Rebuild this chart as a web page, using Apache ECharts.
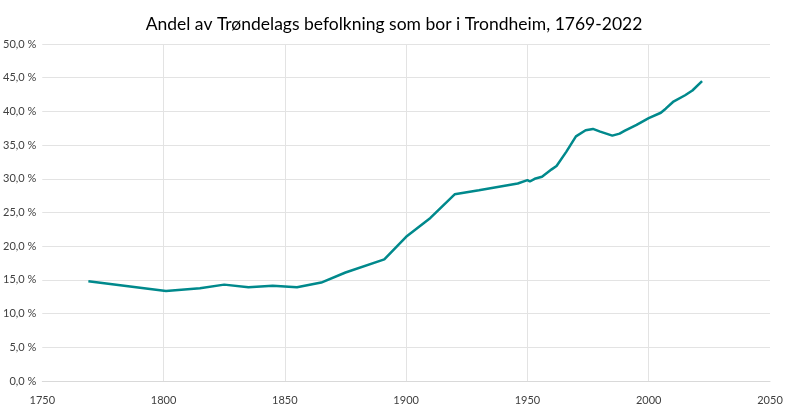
<!DOCTYPE html>
<html>
<head>
<meta charset="utf-8">
<script src="https://cdn.jsdelivr.net/npm/echarts@6/dist/echarts.min.js"></script>
<style>
html, body { margin: 0; padding: 0; background: #fff; }
#chart { width: 800px; height: 413px; }
</style>
</head>
<body>
<div id="chart"></div>
<script>
// år og andel (%)
var years = [1769, 1801, 1815, 1825, 1835, 1845, 1855, 1865, 1875, 1891, 1900, 1910, 1920, 1930, 1946,
	1950, 1951, 1953, 1956, 1960, 1962, 1966, 1970, 1974, 1977, 1980, 1985, 1988, 1990, 1995,
	2000, 2005, 2007, 2010, 2015, 2018, 2022];
var andel = [14.8, 13.35, 13.75, 14.3, 13.9, 14.15, 13.9, 14.6, 16.1, 18.05, 21.4, 24.2, 27.7, 28.3, 29.3,
	29.8, 29.6, 30.0, 30.3, 31.4, 31.9, 34.0, 36.3, 37.2, 37.4, 37.0, 36.4, 36.7, 37.1, 38.0,
	39.0, 39.8, 40.4, 41.4, 42.4, 43.1, 44.5];

var chart = echarts.init(document.getElementById('chart'));
var seriesData = [];
for (var i = 0; i < years.length; i++) {
	seriesData.push([years[i], andel[i]]);
}

var option = {
	animation: false,
	backgroundColor: '#fff',
	title: {
		text: 'Andel av Trøndelags befolkning som bor i Trondheim, 1769-2022',
		left: 389,
		textAlign: 'center',
		top: 10,
		textStyle: {
			fontFamily: 'Lato',
			fontWeight: 'normal',
			fontSize: 17.5,
			color: '#000'
		}
	},
	grid: {
		left: 41,
		right: 30,
		top: 44,
		bottom: 32
	},
	xAxis: {
		type: 'value',
		min: 1750,
		max: 2050,
		interval: 50,
		axisLine: { show: true, lineStyle: { color: '#d9d9d9' } },
		axisTick: { show: false },
		axisLabel: {
			color: '#404040',
			fontFamily: 'Lato',
			fontSize: 11,
			margin: 14,
			formatter: function (v) {
				return String(v);
			}
		},
		splitLine: {
			show: true,
			showMinLine: false,
			showMaxLine: false,
			lineStyle: { color: '#e3e3e3', width: 1 }
		}
	},
	yAxis: {
		type: 'value',
		min: 0,
		max: 50,
		interval: 5,
		axisLine: { show: false },
		axisTick: { show: false },
		axisLabel: {
			color: '#404040',
			fontFamily: 'Lato',
			fontSize: 11,
			margin: 6,
			formatter: function (v) {
				return v.toFixed(1).replace('.', ',') + ' %';
			}
		},
		splitLine: {
			lineStyle: { color: '#e3e3e3', width: 1 }
		}
	},
	series: [{
		type: 'line',
		data: seriesData,
		showSymbol: false,
		smooth: false,
		lineStyle: { color: '#00898C', width: 2.5 },
		itemStyle: { color: '#00898C' }
	}]
};
chart.setOption(option);
</script>
</body>
</html>
